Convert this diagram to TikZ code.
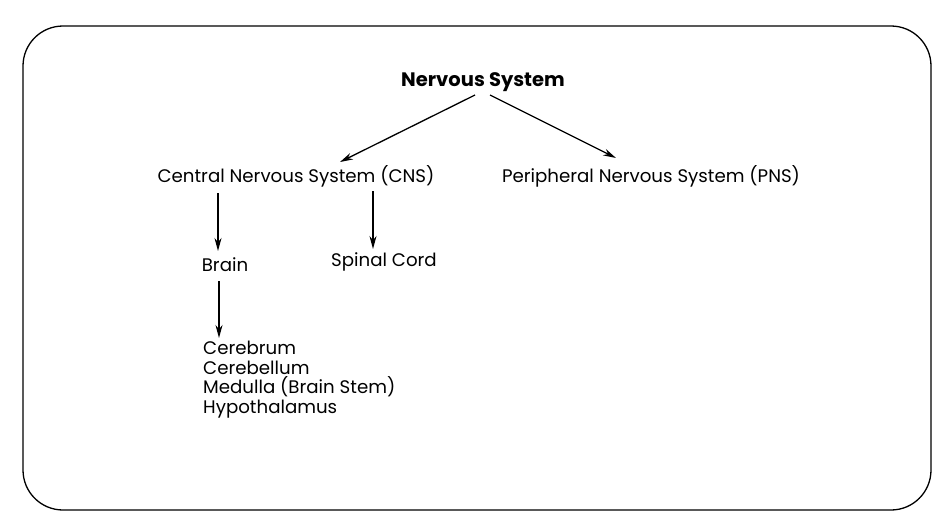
\documentclass[tikz,border=0pt]{standalone}
\usepackage{fontspec}
\setmainfont{Poppins}
\usetikzlibrary{arrows.meta}
\begin{document}
\begin{tikzpicture}[x=1pt,y=-1pt,
  lbl/.style={inner sep=0pt,font=\fontsize{18.2}{19.5}\selectfont},
  arr/.style={line width=1.3pt,-{Stealth[length=13pt,width=7pt]}},
  frame/.style={line width=1.3pt,rounded corners=40pt}]
\useasboundingbox (0,0) rectangle (934,512);
\draw[frame] (23,26) rectangle (931,510);
\node[lbl,font=\fontsize{19.5}{19.5}\selectfont\bfseries] (ns) at (483,82) {Nervous System};
\node[lbl] (cns) at (296,176) {Central Nervous System (CNS)};
\node[lbl] (pns) at (651,176) {Peripheral Nervous System (PNS)};
\node[lbl] (brain) at (225,265) {Brain};
\node[lbl] (sc) at (384,262) {Spinal Cord};
\node[lbl,anchor=north west,align=left] (list) at (203,341) {Cerebrum\\Cerebellum\\Medulla (Brain Stem)\\Hypothalamus};
\coordinate (a1s) at (475,95); \coordinate (a1e) at (340,162);
\coordinate (a2s) at (490,95); \coordinate (a2e) at (616,158);
\draw[arr] (a1s) -- (a1e);
\draw[arr] (a2s) -- (a2e);
\draw[arr] (218,193) -- (218,251);
\draw[arr] (373,191) -- (373,249);
\draw[arr] (219,281) -- (219,338);
\end{tikzpicture}
\end{document}
